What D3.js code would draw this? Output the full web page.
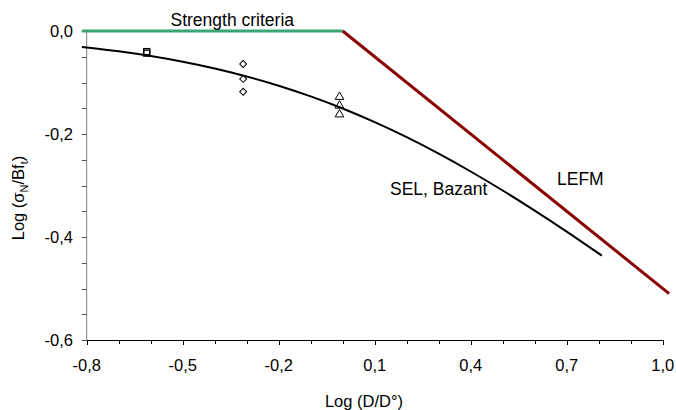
<!DOCTYPE html>
<html>
<head>
<meta charset="utf-8">
<script src="https://cdn.jsdelivr.net/npm/d3@7.8.5/dist/d3.min.js"></script>
<style>
  html, body { margin: 0; padding: 0; background: #fff; }
  svg { display: block; font-family: "Liberation Sans", Arial, sans-serif; }
</style>
</head>
<body>
<svg id="chart" width="676" height="410"></svg>
<script>
// Axis ticks
const xTicks = [-0.8, -0.5, -0.2, 0.1, 0.4, 0.7, 1.0];
const yTicks = [0.0, -0.2, -0.4, -0.6];

// Size effect law curve (log D/D0, log sigmaN/Bft)
const selX = [-0.815, -0.7, -0.6, -0.5, -0.4, -0.3, -0.2, -0.1, 0.0, 0.1, 0.2, 0.3, 0.4, 0.5, 0.6, 0.7, 0.81];
const selY = [-0.031, -0.0395, -0.0487, -0.0597, -0.0728, -0.0882, -0.1062, -0.127, -0.1505, -0.177, -0.2062, -0.2382, -0.2728, -0.3097, -0.3487, -0.3895, -0.4363];

// Strength criterion and LEFM asymptote
const strengthX = [-0.815, 0.0];
const strengthY = [0.0, 0.0];
const lefmX = [0.0, 1.02];
const lefmY = [0.0, -0.51];

// Test results
const squareX = [-0.6125, -0.6125];
const squareY = [-0.040, -0.043];
const diamondX = [-0.311, -0.311, -0.311];
const diamondY = [-0.064, -0.093, -0.118];
const triangleX = [-0.01, -0.01, -0.01];
const triangleY = [-0.128, -0.145, -0.162];

const svg = d3.select('#chart');
const plotLeft = 86.7, plotRight = 662.7, plotTop = 31, plotBottom = 340;

const x = d3.scaleLinear().domain([-0.8, 1.0]).range([plotLeft, plotRight]);
const y = d3.scaleLinear().domain([0, -0.6]).range([plotTop, plotBottom]);

const fmt = d => d3.format('.1f')(d).replace('−', '-').replace('.', ',');

// y axis (grey) with minor ticks every 0.05
const yMinor = d3.range(0, 13).map(i => -i * 0.05);
const gy = svg.append('g');
gy.append('line')
  .attr('x1', plotLeft).attr('x2', plotLeft)
  .attr('y1', plotTop).attr('y2', plotBottom)
  .attr('stroke', '#7f7f7f').attr('stroke-width', 1);
gy.selectAll('line.tick')
  .data(yMinor)
  .enter().append('line')
  .attr('class', 'tick')
  .attr('x1', plotLeft - 5).attr('x2', plotLeft)
  .attr('y1', d => Math.round(y(d)) + 0.5).attr('y2', d => Math.round(y(d)) + 0.5)
  .attr('stroke', '#555').attr('stroke-width', 1);
gy.selectAll('text')
  .data(yTicks)
  .enter().append('text')
  .attr('x', 73)
  .attr('y', d => y(d) + 5.8)
  .attr('text-anchor', 'end')
  .attr('font-size', 16.5)
  .attr('fill', '#000')
  .text(fmt);

// x axis (black) with minor ticks every 0.1
const xMinor = d3.range(0, 19).map(i => -0.8 + i * 0.1);
const gx = svg.append('g');
gx.append('line')
  .attr('x1', plotLeft).attr('x2', plotRight)
  .attr('y1', plotBottom + 0.5).attr('y2', plotBottom + 0.5)
  .attr('stroke', '#000').attr('stroke-width', 1);
gx.selectAll('line.tick')
  .data(xMinor)
  .enter().append('line')
  .attr('class', 'tick')
  .attr('x1', d => Math.round(x(d)) + 0.5).attr('x2', d => Math.round(x(d)) + 0.5)
  .attr('y1', plotBottom).attr('y2', (d, i) => plotBottom + (i % 3 === 0 ? 5 : 4))
  .attr('stroke', '#000').attr('stroke-width', 1);
gx.selectAll('text')
  .data(xTicks)
  .enter().append('text')
  .attr('x', d => x(d))
  .attr('y', 371)
  .attr('text-anchor', 'middle')
  .attr('font-size', 16.5)
  .attr('fill', '#000')
  .text(fmt);

// axis titles
svg.append('text')
  .attr('x', 364).attr('y', 407)
  .attr('text-anchor', 'middle')
  .attr('font-size', 16.5)
  .text('Log (D/D°)');

const yt = svg.append('text')
  .attr('transform', 'translate(24,198) rotate(-90)')
  .attr('text-anchor', 'middle')
  .attr('font-size', 16.5);
yt.append('tspan').text('Log (σ');
yt.append('tspan').attr('font-size', 11).attr('dy', 4).text('N');
yt.append('tspan').attr('dy', -4).text('/Bf');
yt.append('tspan').attr('font-size', 11).attr('dy', 4).text('t');
yt.append('tspan').attr('dy', -4).text(')');

const line = d3.line().x(d => x(d[0])).y(d => y(d[1]));

// strength criterion
svg.append('path')
  .datum(d3.zip(strengthX, strengthY))
  .attr('d', line)
  .attr('fill', 'none')
  .attr('stroke', '#3aa675')
  .attr('stroke-width', 3);

// LEFM
svg.append('path')
  .datum(d3.zip(lefmX, lefmY))
  .attr('d', line)
  .attr('fill', 'none')
  .attr('stroke', '#8b0000')
  .attr('stroke-width', 3);

// SEL curve
svg.append('path')
  .datum(d3.zip(selX, selY))
  .attr('d', line.curve(d3.curveMonotoneX))
  .attr('fill', 'none')
  .attr('stroke', '#000')
  .attr('stroke-width', 2);

// markers
const marks = svg.append('g').attr('fill', '#fff').attr('stroke', '#000').attr('stroke-width', 1);
marks.selectAll('rect.sq')
  .data(d3.zip(squareX, squareY))
  .enter().append('rect')
  .attr('class', 'sq')
  .attr('x', d => x(d[0]) - 3).attr('y', d => y(d[1]) - 3)
  .attr('width', 6).attr('height', 6)
  .attr('fill', 'none')
  .attr('stroke-width', 1.3);
marks.selectAll('path.dm')
  .data(d3.zip(diamondX, diamondY))
  .enter().append('path')
  .attr('class', 'dm')
  .attr('d', d3.symbol().type(d3.symbolSquare).size(24))
  .attr('transform', d => `translate(${x(d[0])},${y(d[1])}) rotate(45)`);
marks.selectAll('path.tr')
  .data(d3.zip(triangleX, triangleY))
  .enter().append('path')
  .attr('class', 'tr')
  .attr('d', d3.symbol().type(d3.symbolTriangle).size(32))
  .attr('fill', 'none')
  .attr('transform', d => `translate(${x(d[0])},${y(d[1])})`);

// annotations
svg.append('text').attr('x', 170.5).attr('y', 26).attr('font-size', 17.5).text('Strength criteria');
svg.append('text').attr('x', 390).attr('y', 195).attr('font-size', 17.5).text('SEL, Bazant');
svg.append('text').attr('x', 557).attr('y', 185).attr('font-size', 17.5).text('LEFM');
</script>
</body>
</html>
